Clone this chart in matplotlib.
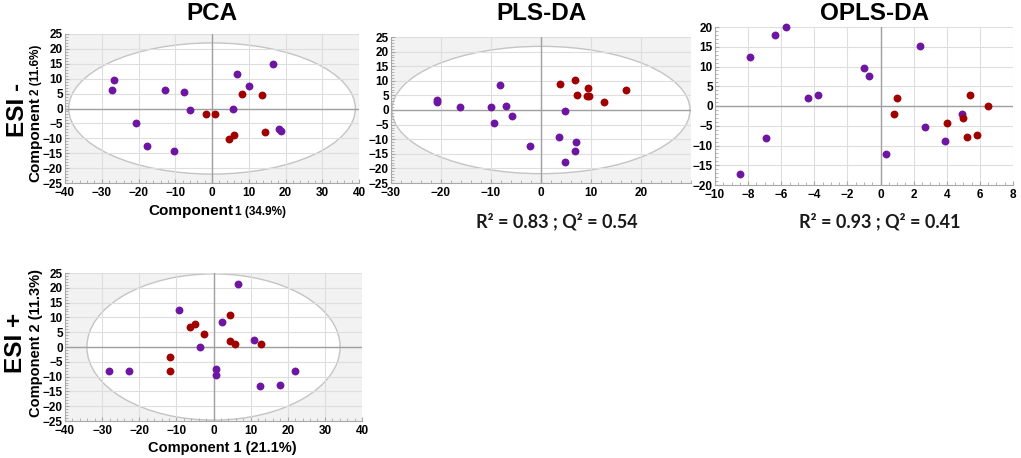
import numpy as np
import matplotlib
matplotlib.use('Agg')
import matplotlib.pyplot as plt
from matplotlib.patches import Ellipse
from matplotlib.ticker import MultipleLocator, FixedLocator

# ---- scores ----
pca_neg_purple_x = [-26.6, -27.3, -12.7, -7.7, -5.9, -20.7, -17.8, -10.4, 6.8, 10.0, 16.6, 5.7, 18.2, 18.9]
pca_neg_purple_y = [9.4, 6.3, 6.1, 5.4, -0.6, -4.8, -12.6, -14.3, 11.6, 7.7, 14.9, 0.0, -6.9, -7.5]
pca_neg_red_x = [-1.7, 0.8, 8.1, 13.7, 4.6, 5.9, 14.5]
pca_neg_red_y = [-1.9, -1.9, 4.9, 4.4, -10.3, -8.8, -7.9]

pls_purple_x = [-20.9, -20.9, -16.3, -8.3, -10.0, -7.1, -5.8, -9.4, -2.2, 4.7, 3.6, 7.0, 6.7, 4.7]
pls_purple_y = [3.5, 2.8, 0.9, 8.5, 0.9, 1.5, -2.2, -4.4, -12.2, -0.2, -9.1, -11.1, -14.2, -17.8]
pls_red_x = [3.8, 6.7, 7.1, 9.3, 9.1, 9.5, 12.5, 16.9]
pls_red_y = [8.8, 10.3, 5.3, 7.4, 4.8, 4.8, 2.7, 7.0]

opls_purple_x = [-5.7, -6.4, -7.9, -4.4, -3.8, -1.0, -0.7, 2.4, -6.9, -8.5, 0.3, 2.7, 3.9, 4.9]
opls_purple_y = [20.0, 18.0, 12.3, 1.9, 2.7, 9.7, 7.7, 15.2, -8.1, -17.2, -12.1, -5.4, -8.8, -2.0]
opls_red_x = [1.0, 0.8, 5.4, 6.5, 5.0, 4.0, 5.2, 5.8]
opls_red_y = [1.9, -2.0, 2.9, 0.0, -3.0, -4.2, -7.8, -7.4]

pca_pos_purple_x = [6.5, -9.3, 2.2, -3.6, 11.0, -28.1, -22.7, 0.8, 0.6, 12.4, 17.9, 22.0]
pca_pos_purple_y = [21.3, 12.6, 8.5, 0.0, 2.4, -8.0, -8.0, -7.6, -9.6, -13.2, -12.7, -8.1]
pca_pos_red_x = [-6.4, -5.0, -2.5, 4.5, 4.5, 5.7, 12.8, -11.8, -11.8]
pca_pos_red_y = [6.9, 7.8, 4.4, 10.7, 2.0, 0.9, 1.1, -3.4, -8.0]

titles = ['PCA', 'PLS-DA', 'OPLS-DA']
stats = ['R\u00b2 = 0.83 ; Q\u00b2 = 0.54', 'R\u00b2 = 0.93 ; Q\u00b2 = 0.41']
pls_xticks = [-30, -20, -10, 0, 10, 20]

PURPLE = '#6e16a2'
RED = '#a00000'
W, H = 1021, 458
plt.rcParams['font.family'] = ['Liberation Sans', 'DejaVu Sans']
plt.rcParams['font.weight'] = 'bold'

fig = plt.figure(figsize=(W / 100, H / 100), dpi=100)


def box(x0, y0, x1, y1):
    # pixel box (top-left origin) -> figure fraction
    return [x0 / W, 1 - y1 / H, (x1 - x0) / W, (y1 - y0) / H]


def px(x, y):
    return x / W, 1 - y / H


def style(ax, xlim, ylim, xmaj, xmin, ymaj, ymin, ellipse=None):
    ax.set_xlim(*xlim)
    ax.set_ylim(*ylim)
    ax.xaxis.set_major_locator(MultipleLocator(xmaj))
    ax.xaxis.set_minor_locator(MultipleLocator(xmin))
    ax.yaxis.set_major_locator(MultipleLocator(ymaj))
    ax.yaxis.set_minor_locator(MultipleLocator(ymin))
    ax.set_axisbelow(True)
    ax.grid(True, which='major', color='#dedede', linewidth=0.8)
    for s in ['top', 'right']:
        ax.spines[s].set_visible(False)
    for s in ['left', 'bottom']:
        ax.spines[s].set_color('#a8a8a8')
        ax.spines[s].set_linewidth(0.8)
    ax.tick_params(which='both', direction='in', color='#a8a8a8', labelsize=8.5)
    ax.tick_params(axis='y', pad=1.5)
    ax.tick_params(axis='x', pad=3)
    ax.tick_params(which='major', length=3)
    ax.tick_params(which='minor', length=2)
    ax.axhline(0, color='#a0a0a0', linewidth=1, zorder=1)
    ax.axvline(0, color='#a0a0a0', linewidth=1, zorder=1)
    if ellipse is not None:
        ax.set_facecolor('#f2f2f2')
        ax.add_patch(Ellipse((0, 0), ellipse[0], ellipse[1], facecolor='white',
                             edgecolor='#c4c4c4', linewidth=1, zorder=0.2))
    else:
        ax.set_facecolor('white')


def dots(ax, xp, yp, xr, yr):
    ax.scatter(xp, yp, s=32, color=PURPLE, zorder=3, linewidths=0, clip_on=False)
    ax.scatter(xr, yr, s=32, color=RED, zorder=3, linewidths=0, clip_on=False)


ax1 = fig.add_axes(box(65, 34, 359, 183))
style(ax1, (-40, 40), (-25, 25), 10, 2, 5, 1, ellipse=(78, 44))
dots(ax1, pca_neg_purple_x, pca_neg_purple_y, pca_neg_red_x, pca_neg_red_y)

ax2 = fig.add_axes(box(391, 37, 691, 183))
style(ax2, (-30, 30), (-25, 25), 10, 2, 5, 1, ellipse=(59.6, 43.6))
ax2.xaxis.set_major_locator(FixedLocator(pls_xticks))
dots(ax2, pls_purple_x, pls_purple_y, pls_red_x, pls_red_y)

ax3 = fig.add_axes(box(715, 27, 1013, 185))
style(ax3, (-10, 8), (-20, 20), 2, 0.5, 5, 1)
dots(ax3, opls_purple_x, opls_purple_y, opls_red_x, opls_red_y)

ax4 = fig.add_axes(box(65, 273, 362, 421))
style(ax4, (-40, 40), (-25, 25), 10, 2, 5, 1, ellipse=(68.2, 49.4))
dots(ax4, pca_pos_purple_x, pca_pos_purple_y, pca_pos_red_x, pca_pos_red_y)

# titles
for (cx, cy), t in zip([(212, 14), (541, 14), (875, 14)], titles):
    fig.text(*px(cx, cy), t, fontsize=17.5, fontweight='bold', ha='center', va='center')

# stats under PLS-DA / OPLS-DA
for (cx, cy), t in zip([(557, 221), (880, 221)], stats):
    fig.text(*px(cx, cy), t, fontsize=13, fontweight='bold', family=['Lato', 'DejaVu Sans'],
             color='#1a1a1a', ha='center', va='center')

# ion mode labels
fig.text(*px(18, 110), 'ESI -', fontsize=17.5, fontweight='bold', rotation=90, ha='center', va='center')
fig.text(*px(16, 343), 'ESI +', fontsize=17.5, fontweight='bold', rotation=90, ha='center', va='center')

# top PCA axis labels: big "Component" + smaller rest
fig.canvas.draw()
r = fig.canvas.get_renderer()
t1 = fig.text(*px(148, 215), 'Component', fontsize=11, fontweight='bold', ha='left', va='baseline')
bb = t1.get_window_extent(r)
fig.text((bb.x1 + 2) / W, 1 - 215 / H, '1 (34.9%)', fontsize=8.5, fontweight='bold',
         ha='left', va='baseline')

t2 = fig.text(*px(39.5, 182), 'Component', fontsize=11, fontweight='bold', ha='left', va='baseline',
              rotation=90, rotation_mode='anchor')
bb = t2.get_window_extent(r)
fig.text(39.5 / W, (bb.y1 + 2) / H, '2 (11.6%)', fontsize=8.5, fontweight='bold',
         ha='left', va='baseline', rotation=90, rotation_mode='anchor')

# bottom PCA axis labels
fig.text(*px(148, 452), 'Component 1 (21.1%)', fontsize=10.5, fontweight='bold', ha='left', va='baseline')
fig.text(*px(40, 417), 'Component 2 (11.3%)', fontsize=10.5, fontweight='bold', ha='left', va='baseline',
         rotation=90, rotation_mode='anchor')

fig.savefig('out.png', dpi=100)
